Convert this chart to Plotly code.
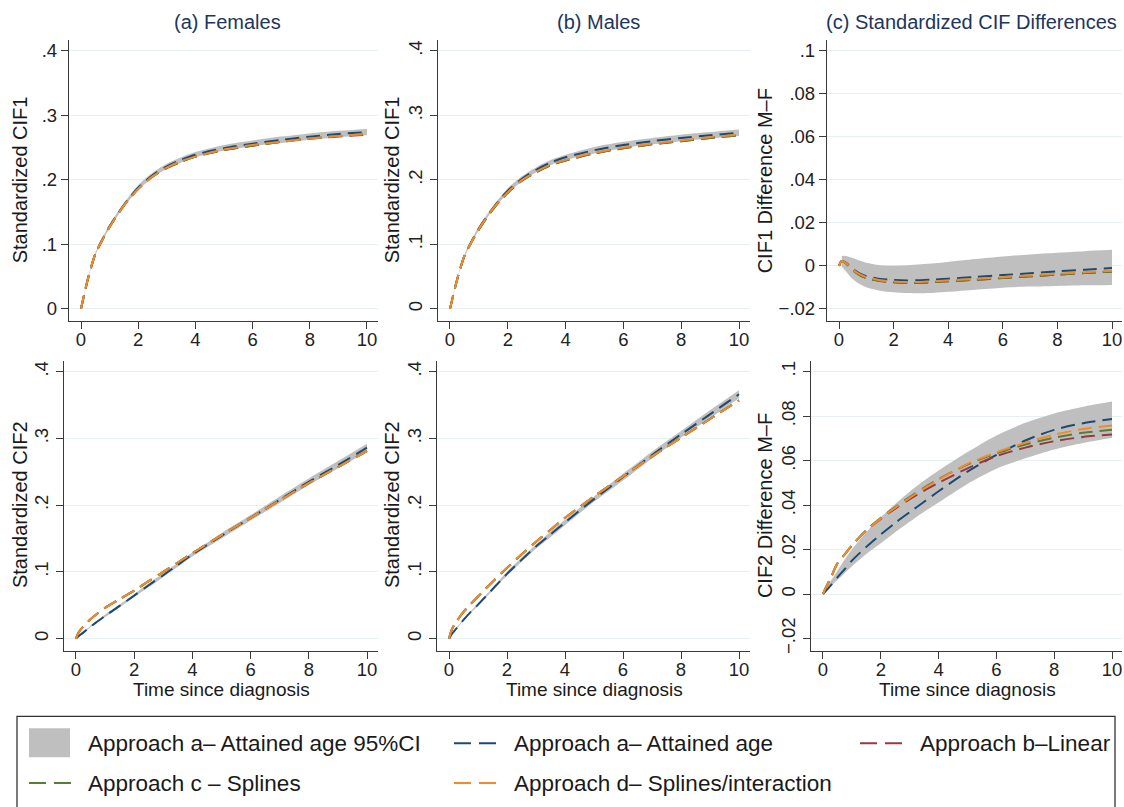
import plotly.graph_objects as go

W, H = 1124, 807

# ---------------- data ----------------
T = [0, 0.1, 0.25, 0.5, 0.75, 1, 1.5, 2, 2.5, 3, 3.5, 4, 5, 6, 7, 8, 9, 10]

# (a) Females, CIF1
A1_a  = [0, 0.020, 0.048, 0.085, 0.108, 0.128, 0.161, 0.188, 0.207, 0.221, 0.231, 0.239, 0.249, 0.256, 0.262, 0.267, 0.271, 0.274]
A1_b  = [0, 0.020, 0.048, 0.085, 0.107, 0.127, 0.160, 0.186, 0.205, 0.218, 0.228, 0.236, 0.246, 0.253, 0.259, 0.264, 0.267, 0.270]
A1_c  = [0, 0.020, 0.048, 0.085, 0.107, 0.127, 0.160, 0.186, 0.205, 0.219, 0.228, 0.236, 0.246, 0.253, 0.259, 0.264, 0.268, 0.271]
A1_d  = [0, 0.020, 0.048, 0.085, 0.107, 0.127, 0.160, 0.186, 0.205, 0.219, 0.229, 0.236, 0.247, 0.254, 0.259, 0.264, 0.268, 0.271]
A1_hi = [0, 0.021, 0.049, 0.087, 0.110, 0.131, 0.164, 0.192, 0.211, 0.225, 0.235, 0.243, 0.254, 0.261, 0.267, 0.272, 0.276, 0.279]
A1_lo = [0, 0.019, 0.047, 0.083, 0.106, 0.125, 0.158, 0.184, 0.203, 0.217, 0.227, 0.235, 0.245, 0.252, 0.257, 0.262, 0.266, 0.269]

# (b) Males, CIF1
B1_a  = [0, 0.019, 0.046, 0.082, 0.105, 0.125, 0.157, 0.183, 0.202, 0.216, 0.227, 0.235, 0.246, 0.254, 0.260, 0.265, 0.269, 0.273]
B1_b  = [0, 0.019, 0.046, 0.082, 0.104, 0.123, 0.155, 0.180, 0.199, 0.212, 0.223, 0.230, 0.241, 0.249, 0.255, 0.260, 0.265, 0.269]
B1_c  = [0, 0.019, 0.046, 0.082, 0.104, 0.123, 0.155, 0.180, 0.199, 0.212, 0.223, 0.230, 0.241, 0.249, 0.255, 0.260, 0.265, 0.269]
B1_d  = [0, 0.019, 0.046, 0.082, 0.104, 0.124, 0.156, 0.181, 0.200, 0.213, 0.224, 0.231, 0.242, 0.250, 0.256, 0.261, 0.266, 0.270]
B1_hi = [0, 0.020, 0.047, 0.084, 0.107, 0.128, 0.160, 0.187, 0.206, 0.220, 0.231, 0.239, 0.251, 0.259, 0.265, 0.270, 0.274, 0.278]
B1_lo = [0, 0.018, 0.045, 0.080, 0.103, 0.122, 0.154, 0.179, 0.198, 0.212, 0.223, 0.231, 0.241, 0.249, 0.255, 0.260, 0.264, 0.268]

# (c) CIF1 difference M-F
C1_a  = [0, 0.0022, 0.0015, -0.0015, -0.0035, -0.0048, -0.0061, -0.0066, -0.0068, -0.0067, -0.0064, -0.0060, -0.0052, -0.0043, -0.0035, -0.0026, -0.0018, -0.0010]
C1_b  = [0, 0.0022, 0.0012, -0.0020, -0.0042, -0.0057, -0.0071, -0.0077, -0.0080, -0.0079, -0.0076, -0.0072, -0.0065, -0.0057, -0.0049, -0.0041, -0.0034, -0.0027]
C1_c  = [0, 0.0022, 0.0012, -0.0021, -0.0043, -0.0057, -0.0071, -0.0077, -0.0080, -0.0079, -0.0076, -0.0072, -0.0065, -0.0057, -0.0049, -0.0041, -0.0034, -0.0027]
C1_d  = [0, 0.0022, 0.0013, -0.0018, -0.0039, -0.0053, -0.0067, -0.0073, -0.0076, -0.0075, -0.0072, -0.0068, -0.0061, -0.0053, -0.0045, -0.0037, -0.0030, -0.0023]
T_C1CI = [0.1, 0.25, 0.5, 0.75, 1, 1.5, 2, 2.5, 3, 3.5, 4, 5, 6, 7, 8, 9, 10]
C1_hi = [0.0045, 0.0046, 0.0036, 0.0024, 0.0014, 0.0003, 0.0000, 0.0002, 0.0007, 0.0012, 0.0018, 0.0031, 0.0043, 0.0053, 0.0061, 0.0068, 0.0074]
C1_lo = [-0.0005, -0.0025, -0.0062, -0.0085, -0.0100, -0.0116, -0.0123, -0.0127, -0.0128, -0.0126, -0.0121, -0.0111, -0.0102, -0.0097, -0.0094, -0.0091, -0.0089]

# (a) Females, CIF2
A2_a  = [0, 0.004, 0.009, 0.018, 0.026, 0.034, 0.049, 0.0645, 0.080, 0.095, 0.1105, 0.126, 0.154, 0.181, 0.208, 0.235, 0.260, 0.286]
A2_b  = [0, 0.010, 0.018, 0.029, 0.038, 0.046, 0.059, 0.072, 0.086, 0.100, 0.114, 0.128, 0.155, 0.181, 0.207, 0.233, 0.257, 0.281]
A2_c  = [0, 0.010, 0.018, 0.029, 0.038, 0.046, 0.059, 0.072, 0.086, 0.100, 0.114, 0.128, 0.155, 0.181, 0.207, 0.233, 0.257, 0.281]
A2_d  = [0, 0.010, 0.018, 0.029, 0.038, 0.046, 0.059, 0.072, 0.086, 0.100, 0.114, 0.128, 0.155, 0.181, 0.207, 0.233, 0.257, 0.281]
A2_hi = [0, 0.0045, 0.010, 0.019, 0.027, 0.036, 0.051, 0.0665, 0.083, 0.098, 0.1135, 0.129, 0.158, 0.185, 0.213, 0.240, 0.266, 0.292]
A2_lo = [0, 0.0035, 0.008, 0.017, 0.025, 0.032, 0.047, 0.0625, 0.077, 0.092, 0.1075, 0.123, 0.150, 0.177, 0.203, 0.230, 0.255, 0.280]

# (b) Males, CIF2
B2_a  = [0, 0.007, 0.015, 0.028, 0.040, 0.051, 0.074, 0.097, 0.118, 0.138, 0.156, 0.174, 0.209, 0.242, 0.275, 0.306, 0.336, 0.366]
B2_b  = [0, 0.014, 0.025, 0.040, 0.052, 0.063, 0.085, 0.106, 0.126, 0.145, 0.163, 0.181, 0.213, 0.243, 0.273, 0.301, 0.329, 0.357]
B2_c  = [0, 0.014, 0.025, 0.040, 0.052, 0.063, 0.085, 0.106, 0.126, 0.145, 0.163, 0.181, 0.213, 0.243, 0.273, 0.301, 0.329, 0.357]
B2_d  = [0, 0.014, 0.025, 0.040, 0.052, 0.063, 0.085, 0.106, 0.126, 0.145, 0.163, 0.181, 0.213, 0.243, 0.273, 0.301, 0.329, 0.357]
B2_hi = [0, 0.0075, 0.016, 0.029, 0.041, 0.053, 0.076, 0.100, 0.121, 0.141, 0.160, 0.178, 0.213, 0.247, 0.280, 0.311, 0.342, 0.372]
B2_lo = [0, 0.0065, 0.014, 0.027, 0.039, 0.049, 0.072, 0.094, 0.115, 0.135, 0.152, 0.170, 0.205, 0.237, 0.270, 0.301, 0.330, 0.360]

# (c) CIF2 difference M-F
C2_a  = [0, 0.0014, 0.0036, 0.0075, 0.0112, 0.0150, 0.0212, 0.0268, 0.0320, 0.0368, 0.0415, 0.0462, 0.0550, 0.0625, 0.0690, 0.0738, 0.0768, 0.0787]
C2_b  = [0, 0.0030, 0.0068, 0.0138, 0.0178, 0.0218, 0.0285, 0.0338, 0.0384, 0.0426, 0.0465, 0.0500, 0.0565, 0.0620, 0.0658, 0.0687, 0.0706, 0.0717]
C2_c  = [0, 0.0030, 0.0068, 0.0138, 0.0178, 0.0219, 0.0288, 0.0343, 0.0391, 0.0436, 0.0479, 0.0517, 0.0582, 0.0632, 0.0672, 0.0703, 0.0725, 0.0738]
C2_d  = [0, 0.0030, 0.0068, 0.0138, 0.0178, 0.0218, 0.0285, 0.0340, 0.0388, 0.0432, 0.0475, 0.0514, 0.0585, 0.0637, 0.0680, 0.0716, 0.0742, 0.0758]
C2_hi = [0, 0.0022, 0.0055, 0.0105, 0.0155, 0.0200, 0.0278, 0.0345, 0.0405, 0.0460, 0.0510, 0.0555, 0.0638, 0.0713, 0.0770, 0.0812, 0.0842, 0.0865]
C2_lo = [0, 0.0010, 0.0032, 0.0063, 0.0094, 0.0125, 0.0180, 0.0228, 0.0278, 0.0325, 0.0370, 0.0412, 0.0495, 0.0563, 0.0610, 0.0650, 0.0679, 0.0701]

X_TICKS = [0, 2, 4, 6, 8, 10]
Y_TICKS_CIF = [0, 0.1, 0.2, 0.3, 0.4]
Y_TEXT_CIF = ["0", ".1", ".2", ".3", ".4"]
Y_TICKS_DIF = [-0.02, 0, 0.02, 0.04, 0.06, 0.08, 0.1]
Y_TEXT_DIF = ["\u2212.02", "0", ".02", ".04", ".06", ".08", ".1"]

PANEL_TITLES = ["(a) Females", "(b) Males", "(c) Standardized CIF Differences"]
Y_TITLES = ["Standardized CIF1", "Standardized CIF1", "CIF1 Difference M\u2013F",
            "Standardized CIF2", "Standardized CIF2", "CIF2 Difference M\u2013F"]
X_TITLE = "Time since diagnosis"

LEGEND_LABELS = ["Approach a\u2013 Attained age 95%CI", "Approach a\u2013 Attained age",
                 "Approach b\u2013Linear", "Approach c \u2013 Splines",
                 "Approach d\u2013 Splines/interaction"]

# ---------------- styles ----------------
FONT = "Liberation Sans, Arial, Helvetica, sans-serif"
CI_COL = "#bfbfbf"
COLS = {"a": "#1c4a72", "b": "#963a40", "c": "#5b7c34", "d": "#f08a2c"}
DASH = "14px,7px"
AXCOL = "#3a3a3a"
GRIDCOL = "#e6eff1"
TITLECOL = "#203560"


def px_x(p):
    return p / W


def px_y(p):
    return 1 - p / H


panels = [
    dict(T=T, a=A1_a, b=A1_b, c=A1_c, d=A1_d, Tci=T, hi=A1_hi, lo=A1_lo,
         box=(69, 378, 40, 322), xr=(-0.42, 10.385), yr=(-0.0185, 0.417), kind="cif", ang=0),
    dict(T=T, a=B1_a, b=B1_b, c=B1_c, d=B1_d, Tci=T, hi=B1_hi, lo=B1_lo,
         box=(438, 750, 40, 322), xr=(-0.415, 10.38), yr=(-0.0185, 0.417), kind="cif", ang=-90),
    dict(T=T, a=C1_a, b=C1_b, c=C1_c, d=C1_d, Tci=T_C1CI, hi=C1_hi, lo=C1_lo,
         box=(827, 1122, 40, 322), xr=(-0.44, 10.366), yr=(-0.0256, 0.1051), kind="dif", ang=0),
    dict(T=T, a=A2_a, b=A2_b, c=A2_c, d=A2_d, Tci=T, hi=A2_hi, lo=A2_lo,
         box=(64, 378, 362, 653), xr=(-0.41, 10.378), yr=(-0.0179, 0.4164), kind="cif", ang=-90),
    dict(T=T, a=B2_a, b=B2_b, c=B2_c, d=B2_d, Tci=T, hi=B2_hi, lo=B2_lo,
         box=(437, 750, 362, 653), xr=(-0.414, 10.379), yr=(-0.0179, 0.4164), kind="cif", ang=-90),
    dict(T=T, a=C2_a, b=C2_b, c=C2_c, d=C2_d, Tci=T, hi=C2_hi, lo=C2_lo,
         box=(811, 1122, 362, 653), xr=(-0.415, 10.346), yr=(-0.0254, 0.1049), kind="dif", ang=-90),
]

fig = go.Figure()
layout = {}

for i, p in enumerate(panels, start=1):
    xa = "x" if i == 1 else f"x{i}"
    ya = "y" if i == 1 else f"y{i}"
    fig.add_trace(go.Scatter(x=p["Tci"], y=p["lo"], xaxis=xa, yaxis=ya, mode="lines",
                             line=dict(width=0, shape="spline", smoothing=0.8),
                             hoverinfo="skip", showlegend=False))
    fig.add_trace(go.Scatter(x=p["Tci"], y=p["hi"], xaxis=xa, yaxis=ya, mode="lines",
                             fill="tonexty", fillcolor=CI_COL,
                             line=dict(width=0, shape="spline", smoothing=0.8),
                             hoverinfo="skip", showlegend=False))
    for key in ["a", "b", "c", "d"]:
        fig.add_trace(go.Scatter(x=p["T"], y=p[key], xaxis=xa, yaxis=ya, mode="lines",
                                 line=dict(color=COLS[key], width=2, dash=DASH,
                                           shape="spline", smoothing=0.8),
                                 showlegend=False))
    x0, x1, y0, y1 = p["box"]
    xkey = "xaxis" if i == 1 else f"xaxis{i}"
    ykey = "yaxis" if i == 1 else f"yaxis{i}"
    layout[xkey] = dict(domain=[px_x(x0), px_x(x1)], range=list(p["xr"]), anchor=ya,
                        tickvals=X_TICKS, ticktext=[str(v) for v in X_TICKS],
                        showgrid=False, zeroline=False, showline=True, linecolor=AXCOL,
                        linewidth=1.3, ticks="outside", ticklen=7, tickwidth=1.2,
                        tickcolor=AXCOL, ticklabelstandoff=-5,
                        tickfont=dict(size=18.5, color="#222", family=FONT))
    if p["kind"] == "cif":
        tv, tt = Y_TICKS_CIF, Y_TEXT_CIF
    else:
        tv, tt = Y_TICKS_DIF, Y_TEXT_DIF
    layout[ykey] = dict(domain=[px_y(y1), px_y(y0)], range=list(p["yr"]), anchor=xa,
                        tickvals=tv, ticktext=tt, tickangle=p["ang"],
                        showgrid=True, gridcolor=GRIDCOL, gridwidth=1, zeroline=False,
                        showline=True, linecolor=AXCOL, linewidth=1.3, ticks="outside",
                        ticklen=7, tickwidth=1.2, tickcolor=AXCOL,
                        tickfont=dict(size=18.5, color="#222", family=FONT))

annotations = []
for txt, cx in zip(PANEL_TITLES, [227, 598, 971]):
    annotations.append(dict(text=txt, x=px_x(cx), y=px_y(22), xref="paper", yref="paper",
                            xanchor="center", yanchor="middle", showarrow=False,
                            font=dict(size=20, color=TITLECOL, family=FONT)))
ytitle_pos = [(20, 181), (392, 181), (765, 181), (20, 507), (392, 507), (765, 507)]
for txt, (cx, cy) in zip(Y_TITLES, ytitle_pos):
    annotations.append(dict(text=txt, x=px_x(cx), y=px_y(cy), xref="paper", yref="paper",
                            xanchor="center", yanchor="middle", showarrow=False, textangle=-90,
                            font=dict(size=20, color="#1a1a1a", family=FONT)))
for cx in [221, 594, 967]:
    annotations.append(dict(text=X_TITLE, x=px_x(cx), y=px_y(692), xref="paper", yref="paper",
                            xanchor="center", yanchor="middle", showarrow=False,
                            font=dict(size=19, color="#1a1a1a", family=FONT)))

# legend (drawn to match the boxed legend of the reference)
shapes = []
shapes.append(dict(type="rect", xref="paper", yref="paper", x0=px_x(17), x1=px_x(1115),
                   y0=px_y(812), y1=px_y(719), line=dict(color="#333", width=1.3),
                   fillcolor="rgba(0,0,0,0)"))
shapes.append(dict(type="rect", xref="paper", yref="paper", x0=px_x(29), x1=px_x(70),
                   y0=px_y(760), y1=px_y(731), line=dict(width=0), fillcolor=CI_COL))
legend_lines = [("a", 454, 746), ("b", 860, 746), ("c", 29, 786), ("d", 454, 786)]
for key, lx, ly in legend_lines:
    shapes.append(dict(type="line", xref="paper", yref="paper", x0=px_x(lx), x1=px_x(lx + 42),
                       y0=px_y(ly), y1=px_y(ly),
                       line=dict(color=COLS[key], width=2, dash="17px,8px")))
legend_text_pos = [(86, 746), (512, 746), (918, 746), (86, 786), (512, 786)]
for txt, (tx, ty) in zip(LEGEND_LABELS, legend_text_pos):
    annotations.append(dict(text=txt, x=px_x(tx), y=px_y(ty), xref="paper", yref="paper",
                            xanchor="left", yanchor="middle", showarrow=False,
                            font=dict(size=22.5, color="#1a1a1a", family=FONT)))

fig.update_layout(width=W, height=H, margin=dict(l=0, r=0, t=0, b=0),
                  paper_bgcolor="white", plot_bgcolor="white", showlegend=False,
                  font=dict(family=FONT), annotations=annotations, shapes=shapes, **layout)

fig.write_html("out.html", config={"displayModeBar": False},
               post_script="document.body.style.margin='0px';document.body.style.overflow='hidden';")
